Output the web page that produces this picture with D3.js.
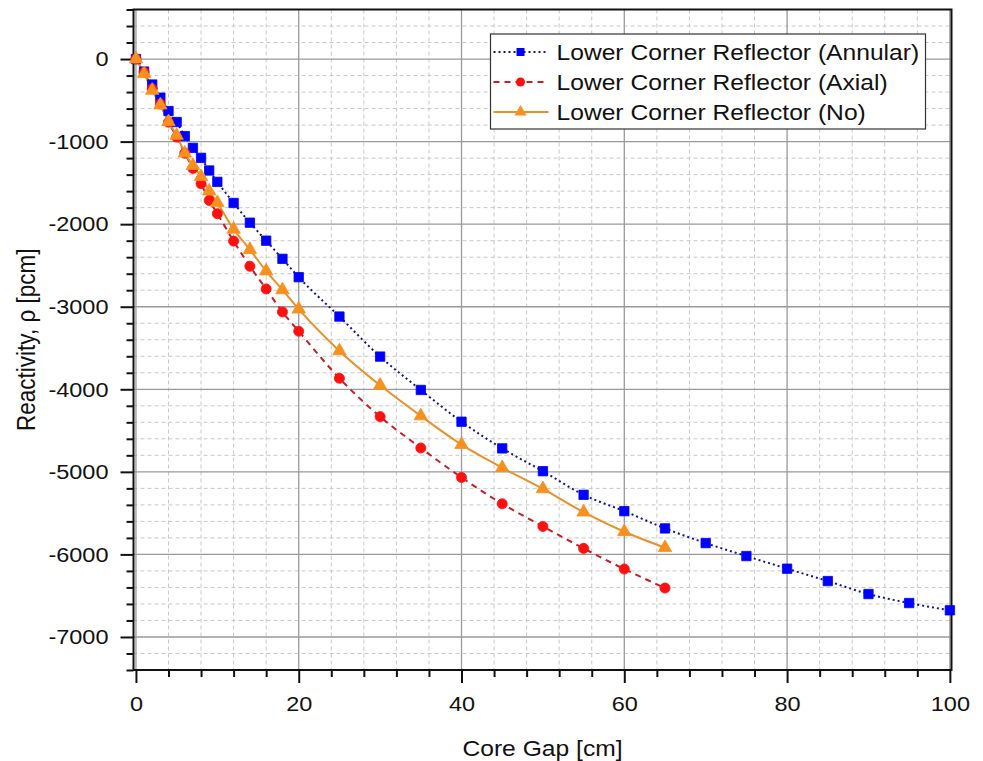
<!DOCTYPE html>
<html>
<head>
<meta charset="utf-8">
<script src="https://cdn.jsdelivr.net/npm/d3@7"></script>
<style>
  body { margin: 0; background: #fff; }
  text { font-family: 'Liberation Sans', Arial, sans-serif; fill: #111; }
</style>
</head>
<body>
<div id="chart"></div>
<script>
// Core gap positions (cm)
const gapLong = [0, 1, 2, 3, 4, 5, 6, 7, 8, 9, 10, 12, 14, 16, 18, 20, 25, 30, 35, 40, 45, 50, 55, 60, 65, 70, 75, 80, 85, 90, 95, 100];
const gapShort = [0, 1, 2, 3, 4, 5, 6, 7, 8, 9, 10, 12, 14, 16, 18, 20, 25, 30, 35, 40, 45, 50, 55, 60, 65];

// Reactivity (pcm)
const annular = [0, -152, -309, -468, -630, -763, -934, -1076, -1197, -1350, -1488, -1743, -1982, -2200, -2420, -2642,
  -3119, -3604, -4008, -4393, -4716, -4992, -5278, -5476, -5685, -5863, -6020, -6173, -6323, -6480, -6589, -6677];
const axial = [0, -160, -360, -545, -765, -945, -1140, -1325, -1510, -1712, -1873, -2205, -2510, -2785, -3063, -3297,
  -3867, -4331, -4711, -5068, -5387, -5661, -5927, -6177, -6407];
const noRefl = [0, -177, -380, -558, -760, -925, -1140, -1290, -1425, -1600, -1740, -2062, -2308, -2568, -2796, -3030,
  -3535, -3952, -4323, -4670, -4950, -5206, -5488, -5726, -5919];

const seriesNames = ['Lower Corner Reflector (Annular)', 'Lower Corner Reflector (Axial)', 'Lower Corner Reflector (No)'];
const xTicks = [0, 20, 40, 60, 80, 100];
const yTicks = [0, -1000, -2000, -3000, -4000, -5000, -6000, -7000];

const W = 983, H = 761;
const margin = {top: 9.5, right: 31.5, bottom: 91, left: 133.5};
const width = W - margin.left - margin.right;
const height = H - margin.top - margin.bottom;
const SX = 1.12; // the glyphs in the picture are a bit wide

const svg = d3.select('#chart').append('svg')
  .attr('width', W)
  .attr('height', H);

const chart = svg.append('g')
  .attr('transform', `translate(${margin.left},${margin.top})`);

const x = d3.scaleLinear().domain([-0.3, 100.2]).range([0, width]);
const y = d3.scaleLinear().domain([-7400, 600]).range([height, 0]);

// minor grid
const minorX = d3.range(0, 101, 4).filter(v => v % 20 !== 0);
const minorY = d3.range(-7400, 601, 200).filter(v => v % 1000 !== 0);

chart.append('g').selectAll('line')
  .data(minorX)
  .join('line')
  .attr('x1', d => x(d)).attr('x2', d => x(d))
  .attr('y1', 0).attr('y2', height)
  .attr('stroke', '#c8c8c8').attr('stroke-width', 1).attr('stroke-dasharray', '4,3');

chart.append('g').selectAll('line')
  .data(minorY)
  .join('line')
  .attr('x1', 0).attr('x2', width)
  .attr('y1', d => y(d)).attr('y2', d => y(d))
  .attr('stroke', '#c8c8c8').attr('stroke-width', 1).attr('stroke-dasharray', '4,3');

// major grid
chart.append('g').selectAll('line')
  .data(xTicks)
  .join('line')
  .attr('x1', d => x(d)).attr('x2', d => x(d))
  .attr('y1', 0).attr('y2', height)
  .attr('stroke', '#9a9a9a').attr('stroke-width', 1.3);

chart.append('g').selectAll('line')
  .data(yTicks)
  .join('line')
  .attr('x1', 0).attr('x2', width)
  .attr('y1', d => y(d)).attr('y2', d => y(d))
  .attr('stroke', '#9a9a9a').attr('stroke-width', 1.3);

// axes
const xAxis = chart.append('g')
  .attr('transform', `translate(0,${height})`)
  .call(d3.axisBottom(x).tickValues(xTicks).tickSize(13).tickSizeOuter(0).tickPadding(13));
const xMinor = chart.append('g')
  .attr('transform', `translate(0,${height})`)
  .call(d3.axisBottom(x).tickValues(minorX).tickSize(7).tickSizeOuter(0).tickFormat(''));

const yAxis = chart.append('g')
  .call(d3.axisLeft(y).tickValues(yTicks).tickSize(13).tickSizeOuter(0).tickPadding(12));
const yMinor = chart.append('g')
  .call(d3.axisLeft(y).tickValues(minorY).tickSize(7).tickSizeOuter(0).tickFormat(''));

[xAxis, xMinor, yAxis, yMinor].forEach(a => {
  a.select('.domain').remove();
  a.selectAll('.tick line').attr('stroke', '#111').attr('stroke-width', 2);
});

xAxis.selectAll('text')
  .attr('font-size', 21)
  .attr('font-family', "'Liberation Sans', Arial, sans-serif")
  .attr('fill', '#111')
  .attr('transform', `scale(${SX},1)`);

yAxis.selectAll('text')
  .attr('font-size', 21)
  .attr('font-family', "'Liberation Sans', Arial, sans-serif")
  .attr('fill', '#111')
  .attr('x', -25 / SX)
  .attr('transform', `scale(${SX},1)`)
  .text(d => d);

// frame
chart.append('rect')
  .attr('width', width).attr('height', height)
  .attr('fill', 'none').attr('stroke', '#111').attr('stroke-width', 2);

// axis titles
svg.append('text')
  .attr('transform', `translate(${margin.left + width / 2},756) scale(${SX},1)`)
  .attr('text-anchor', 'middle')
  .attr('font-size', 22)
  .text('Core Gap [cm]');

svg.append('text')
  .attr('transform', `translate(35,${margin.top + height / 2}) scale(${SX},1) rotate(-90)`)
  .attr('text-anchor', 'middle')
  .attr('font-size', 22.5)
  .text('Reactivity, ρ [pcm]');

// series
const series = [
  {name: seriesNames[0], xs: gapLong, ys: annular, line: '#14148c', marker: '#0000ff', dash: '2,3', symbol: d3.symbolSquare, size: 88},
  {name: seriesNames[1], xs: gapShort, ys: axial, line: '#c41e26', marker: '#ff1010', dash: '6,5', symbol: d3.symbolCircle, size: 80},
  {name: seriesNames[2], xs: gapShort, ys: noRefl, line: '#e8902a', marker: '#f7901e', dash: null, symbol: d3.symbolTriangle, size: 78}
];

const line = d3.line()
  .x(d => x(d[0]))
  .y(d => y(d[1]))
  .curve(d3.curveMonotoneX);

series.forEach(s => {
  const pts = s.xs.map((g, i) => [g, s.ys[i]]);
  chart.append('path')
    .datum(pts)
    .attr('d', line)
    .attr('fill', 'none')
    .attr('stroke', s.line)
    .attr('stroke-width', 2)
    .attr('stroke-dasharray', s.dash);
});

series.forEach(s => {
  const pts = s.xs.map((g, i) => [g, s.ys[i]]);
  chart.append('g').selectAll('path')
    .data(pts)
    .join('path')
    .attr('transform', d => `translate(${x(d[0])},${y(d[1])})`)
    .attr('d', d3.symbol().type(s.symbol).size(s.size))
    .attr('fill', s.marker)
    .attr('stroke', s.marker)
    .attr('stroke-width', 0.8);
});

// legend
const legend = svg.append('g').attr('transform', 'translate(490.5,34)');
legend.append('rect')
  .attr('width', 435).attr('height', 95)
  .attr('fill', '#fff').attr('stroke', '#333').attr('stroke-width', 1.2);

series.forEach((s, i) => {
  const row = legend.append('g').attr('transform', `translate(0,${18 + i * 30})`);
  row.append('line')
    .attr('x1', 3).attr('x2', 58)
    .attr('stroke', s.line).attr('stroke-width', 2)
    .attr('stroke-dasharray', s.dash);
  row.append('path')
    .attr('transform', 'translate(30,0)')
    .attr('d', d3.symbol().type(s.symbol).size(64))
    .attr('fill', s.marker);
  row.append('text')
    .attr('transform', `translate(66,0) scale(${SX},1)`)
    .attr('dy', '0.35em')
    .attr('font-size', 22)
    .text(s.name);
});
</script>
</body>
</html>
